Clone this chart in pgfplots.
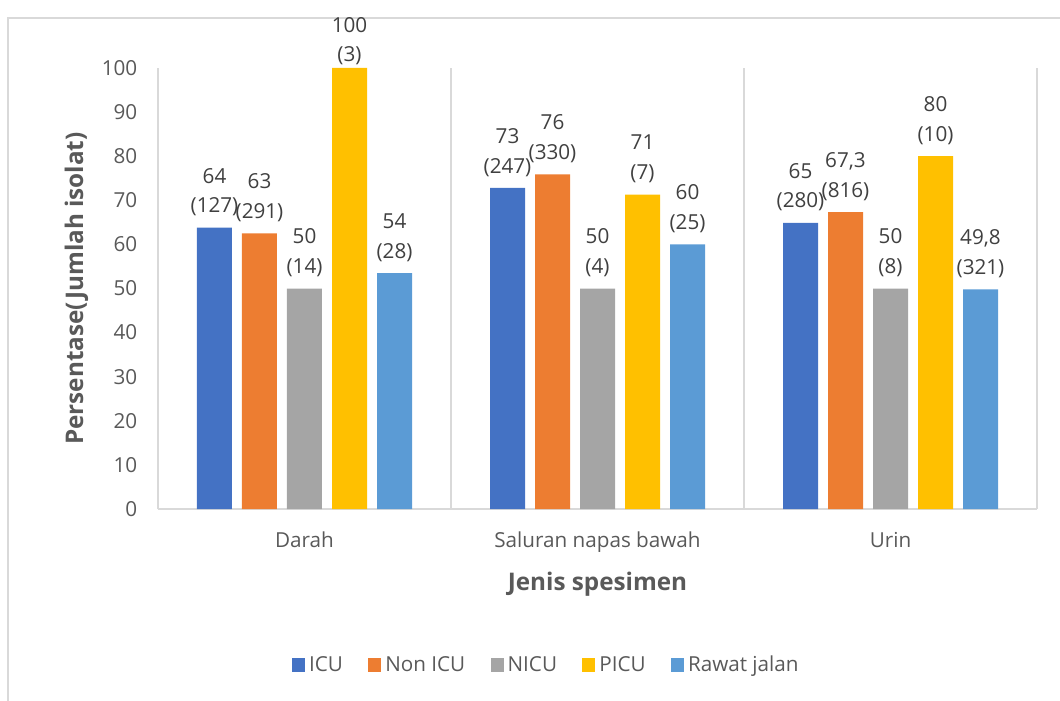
\documentclass[border=0pt]{standalone}
\usepackage{fontspec}
\setmainfont{Open Sans}
\usepackage{pgfplots}
\pgfplotsset{compat=1.18}
\definecolor{cICU}{HTML}{4472C4}
\definecolor{cNon}{HTML}{ED7D31}
\definecolor{cNICU}{HTML}{A5A5A5}
\definecolor{cPICU}{HTML}{FFC000}
\definecolor{cRJ}{HTML}{5B9BD5}
\definecolor{txtgray}{HTML}{595959}
\definecolor{lblgray}{HTML}{404040}
\definecolor{linegray}{HTML}{D9D9D9}
\pgfplotsset{legsq/.style={legend image code/.code={\fill[##1] (0pt,-4.9pt) rectangle (9.75pt,4.9pt);}}}
\begin{document}
\begin{tikzpicture}
\draw[linegray, line width=1.5pt] (-112.5pt,-200pt) |- (720pt,368.25pt);
\begin{axis}[
  name=ax, at={(0,0)}, anchor=south west,
  scale only axis, width=659.25pt, height=330.75pt,
  xmin=-0.5, xmax=2.5, ymin=0, ymax=100,
  ybar=7.5pt, bar width=26.25pt,
  xtick={0,1,2}, xticklabels={Darah, Saluran napas bawah, Urin},
  ytick={0,10,...,100},
  /pgf/number format/assume math mode=true,
  axis x line*=bottom, axis y line*=left,
  axis line style={draw=linegray, line width=1.1pt},
  tick style={draw=none}, major tick length=0pt,
  extra x ticks={0.5,1.5,2.5}, extra x tick labels={},
  extra x tick style={grid=major, major grid style={draw=linegray, line width=1.1pt}},
  tick label style={font=\fontsize{15.5}{18}\selectfont, color=txtgray},
  yticklabel style={anchor=east, xshift=-12pt},
  xticklabel style={anchor=base, yshift=-29pt},
  xlabel={Jenis spesimen}, ylabel={Persentase(Jumlah isolat)},
  label style={font=\fontsize{18.2}{22}\selectfont\bfseries, color=txtgray},
  xlabel style={at={(axis description cs:0.5,0)}, anchor=base, yshift=-60.75pt},
  ylabel style={at={(axis description cs:-0.0853,0.5)}, anchor=base, rotate=0},
  point meta=explicit symbolic,
  nodes near coords,
  every node near coord/.append style={font=\fontsize{15.5}{22.3}\selectfont, color=lblgray, align=center, anchor=south, inner sep=0pt, yshift=8.5pt},
  clip=false,
  legend columns=5,
  legend style={at={(axis description cs:0.443,-0.3537)}, anchor=center, draw=none, fill=none,
    font=\fontsize{15.5}{18}\selectfont, text=txtgray,
    /tikz/every even column/.append style={column sep=16pt},
    nodes={inner sep=3pt}},
]
\addplot[fill=cICU, draw=none, legsq] coordinates {(0,63.8) [64\\(127)] (1,72.8) [73\\(247)] (2,64.9) [65\\(280)]};
\addplot[fill=cNon, draw=none, legsq] coordinates {(0,62.5) [63\\(291)] (1,75.9) [76\\(330)] (2,67.3) [{67,3}\\(816)]};
\addplot[fill=cNICU, draw=none, legsq] coordinates {(0,50) [50\\(14)] (1,50) [50\\(4)] (2,50) [50\\(8)]};
\addplot[fill=cPICU, draw=none, legsq, coordinate style/.condition={\coordindex==0}{yshift=-6.5pt}] coordinates {(0,100) [100\\(3)] (1,71.3) [71\\(7)] (2,80) [80\\(10)]};
\addplot[fill=cRJ, draw=none, legsq] coordinates {(0,53.5) [54\\(28)] (1,60) [60\\(25)] (2,49.8) [{49,8}\\(321)]};
\legend{ICU, Non ICU, NICU, PICU, Rawat jalan}
\end{axis}
\pgfresetboundingbox
\path[use as bounding box] (-118.5pt,-143.25pt) rectangle (676.5pt,381.75pt);
\end{tikzpicture}
\end{document}
